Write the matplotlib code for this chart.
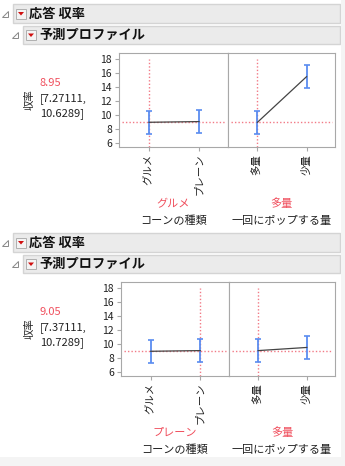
import matplotlib
matplotlib.use("Agg")
import matplotlib.pyplot as plt
from matplotlib.patches import Rectangle, Polygon

plt.rcParams['font.family'] = ['Noto Sans CJK JP', 'DejaVu Sans']

# ---- data ----
response_name = "収率"
factor1_name = "コーンの種類"
factor2_name = "一回にポップする量"
factor1_levels = ["グルメ", "プレーン"]
factor2_levels = ["多量", "少量"]
yticks = [6, 8, 10, 12, 14, 16, 18]

# section 1: current setting グルメ / 多量
s1_pred = 8.95
s1_ci = "[7.27111,\n10.6289]"
s1_f1_mean = [8.95, 9.05]
s1_f1_lo = [7.27111, 7.37111]
s1_f1_hi = [10.6289, 10.7289]
s1_f2_mean = [8.95, 15.5]
s1_f2_lo = [7.27111, 13.82]
s1_f2_hi = [10.6289, 17.2]
s1_sel = [0, 0]

# section 2: current setting プレーン / 多量
s2_pred = 9.05
s2_ci = "[7.37111,\n10.7289]"
s2_f1_mean = [8.95, 9.05]
s2_f1_lo = [7.27111, 7.37111]
s2_f1_hi = [10.6289, 10.7289]
s2_f2_mean = [9.05, 9.5]
s2_f2_lo = [7.37111, 7.82]
s2_f2_hi = [10.7289, 11.18]
s2_sel = [1, 0]

W, H = 345, 466
fig = plt.figure(figsize=(W / 100, H / 100), dpi=100)
fig.patch.set_facecolor("white")

RED = "#f0505e"
REFRED = "#f27a86"
BLUE = "#5a8cf0"
GRID = "#a8a8a8"


def fx(x):
    return x / W


def fy(y):
    return 1 - y / H


def header(x0, y0, x1, y1, text):
    fig.patches.append(Rectangle((fx(x0), fy(y1)), fx(x1) - fx(x0), fy(y0) - fy(y1),
                                 transform=fig.transFigure, facecolor="#ebebeb",
                                 edgecolor="#d4d4d4", lw=1.0))
    cy = (y0 + y1) / 2
    # disclosure triangle
    tx = x0 - 8
    fig.patches.append(Polygon([(fx(tx - 3), fy(cy + 3)), (fx(tx + 3), fy(cy + 3)), (fx(tx + 3), fy(cy - 3))],
                               closed=True, transform=fig.transFigure, facecolor="white",
                               edgecolor="#888888", lw=0.7))
    # red button
    bx = x0 + 3
    fig.patches.append(Rectangle((fx(bx), fy(cy + 5)), fx(10), 10 / H, transform=fig.transFigure,
                                 facecolor="#f4f4f4", edgecolor="#b0b0b0", lw=0.7))
    fig.patches.append(Polygon([(fx(bx + 2), fy(cy - 1.5)), (fx(bx + 8), fy(cy - 1.5)), (fx(bx + 5), fy(cy + 2))],
                               closed=True, transform=fig.transFigure, facecolor="#d01010",
                               edgecolor="none"))
    fig.text(fx(bx + 13), fy(cy), text, fontsize=9.5, fontweight="bold", va="center", ha="left",
             color="#111111")


def section(top, pred, ci, f1m, f1l, f1h, f2m, f2l, f2h, sel, axl, axt, axb, divx):
    header(13, top, 340, top + 19, "応答 収率")
    header(23, top + 22, 340, top + 40, "予測プロファイル")
    axr = 335
    ax1 = fig.add_axes([fx(axl), fy(axb), fx(divx) - fx(axl), fy(axt) - fy(axb)])
    ax2 = fig.add_axes([fx(divx), fy(axb), fx(axr) - fx(divx), fy(axt) - fy(axb)], sharey=ax1)
    panels = [(ax1, factor1_levels, f1m, f1l, f1h, sel[0], factor1_name),
              (ax2, factor2_levels, f2m, f2l, f2h, sel[1], factor2_name)]
    for ax, levels, m, lo, hi, s, name in panels:
        xs = list(range(len(levels)))
        ax.set_xlim(-0.6, 1.58)
        ax.set_ylim(5.4, 18.9)
        ax.axhline(pred, xmin=0.03, xmax=0.97, color=REFRED, ls=(0, (1, 1.5)), lw=1.0, zorder=1)
        ax.plot([xs[s], xs[s]], [5.4, 18], color=REFRED, ls=(0, (1, 1.5)), lw=1.0, zorder=1)
        ax.plot(xs, m, color="#444444", lw=0.9, zorder=3)
        ax.errorbar(xs, m, yerr=[[a - b for a, b in zip(m, lo)], [b - a for a, b in zip(m, hi)]],
                    fmt="none", ecolor=BLUE, elinewidth=1.3, capsize=2.5, capthick=1.2, zorder=2)
        ax.set_xticks(xs)
        ax.set_xticklabels(levels, rotation=90, fontsize=7.5, va="top", ha="center")
        for sp in ax.spines.values():
            sp.set_color(GRID)
        ax.tick_params(axis="both", colors=GRID, labelcolor="#222222", length=3, width=0.8)
        ax.tick_params(axis="x", pad=2)
        cx = (ax.get_position().x0 + ax.get_position().x1) / 2
        fig.text(cx, fy(axb + 57), levels[s], color=RED, fontsize=8, ha="center", va="center")
        fig.text(cx, fy(axb + 74), name, color="#222222", fontsize=8, ha="center", va="center")
    ax1.set_yticks(yticks)
    ax1.tick_params(axis="y", labelsize=7.5, pad=2)
    ax2.tick_params(axis="y", left=False, labelleft=False)
    mid = (axt + axb) / 2
    fig.text(fx(30), fy(mid), response_name, rotation=90, fontsize=7.5, ha="center", va="center",
             color="#222222")
    fig.text(fx(40), fy(mid - 17), f"{pred:.2f}", color=RED, fontsize=8, ha="left", va="center")
    fig.text(fx(40), fy(mid + 6), ci, color="#222222", fontsize=8, ha="left", va="center",
             linespacing=1.45)


section(4, s1_pred, s1_ci, s1_f1_mean, s1_f1_lo, s1_f1_hi, s1_f2_mean, s1_f2_lo, s1_f2_hi,
        s1_sel, 119, 53, 147, 228)
section(233, s2_pred, s2_ci, s2_f1_mean, s2_f1_lo, s2_f1_hi, s2_f2_mean, s2_f2_lo, s2_f2_hi,
        s2_sel, 121, 282, 376, 229)

# light outer frame areas
fig.patches.append(Rectangle((fx(341), 0), fx(4), 1, transform=fig.transFigure,
                             facecolor="#f4f4f4", edgecolor="none"))
fig.patches.append(Rectangle((0, 0), 1, 9 / H, transform=fig.transFigure,
                             facecolor="#f4f4f4", edgecolor="none"))

fig.savefig("out.png", dpi=100)
